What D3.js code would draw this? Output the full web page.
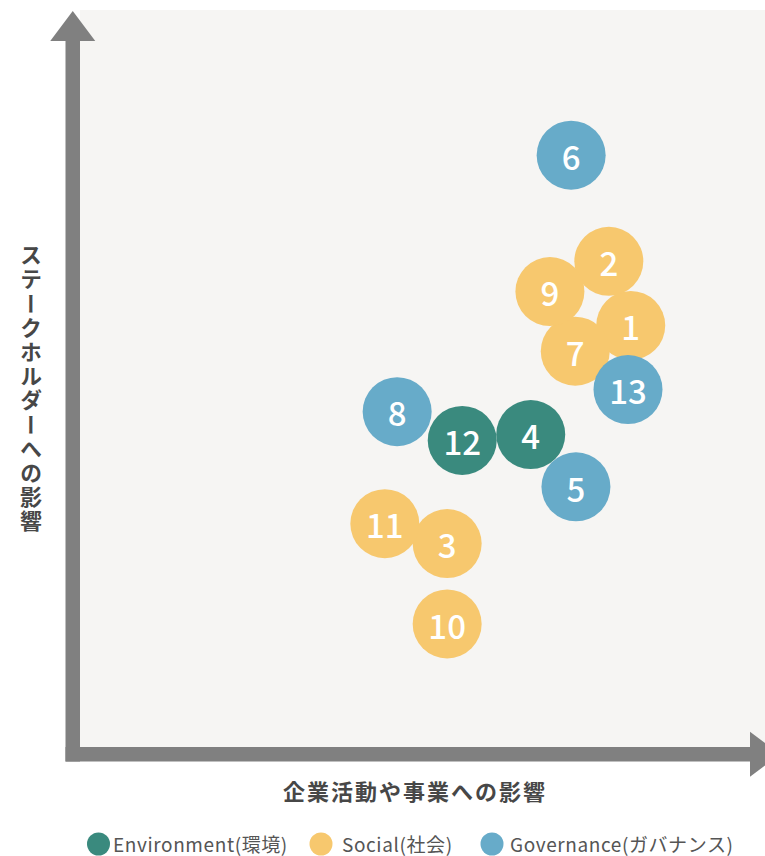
<!DOCTYPE html>
<html>
<head>
<meta charset="utf-8">
<script src="https://cdn.jsdelivr.net/npm/d3@7"></script>
<style>
  html, body { margin: 0; padding: 0; background: #ffffff; }
  svg { display: block; }
</style>
</head>
<body>
<div id="chart"></div>
<script>
// ---- data ----
const ids               = [1, 2, 3, 4, 5, 6, 7, 8, 9, 10, 11, 12, 13];
const businessImpact    = [80.4, 77.2, 53.6, 65.8, 72.4, 71.7, 72.3, 46.3, 68.6, 53.6, 44.5, 55.8, 80.0];
const stakeholderImpact = [57.2, 65.9, 27.6, 42.4, 35.3, 80.3, 53.7, 45.5, 61.8, 16.7, 30.3, 41.6, 48.5];
// E = 4,12 ; S = 1,2,3,7,9,10,11 ; G = 5,6,8,13
const categoryById = ["S", "S", "S", "E", "G", "G", "S", "G", "S", "S", "S", "E", "G"];
const legendKeys   = ["E", "S", "G"];
const legendLabels = ["Environment(環境)", "Social(社会)", "Governance(ガバナンス)"];
const xTitle = "企業活動や事業への影響";
const yTitle = "ステークホルダーへの影響";

const W = 765, H = 856;
const colors = { E: "#3a8a7e", S: "#f7c86e", G: "#67abc9" };

const svg = d3.select("#chart").append("svg")
  .attr("width", W).attr("height", H);

// plot area
const plot = { left: 80, right: 765, top: 10, bottom: 747 };
const x = d3.scaleLinear().domain([0, 100]).range([plot.left, plot.right]);
const y = d3.scaleLinear().domain([0, 100]).range([plot.bottom, plot.top]);

svg.append("rect")
  .attr("x", x(0)).attr("y", y(100))
  .attr("width", x(100) - x(0)).attr("height", y(0) - y(100))
  .attr("fill", "#f6f5f3");

// axes (thick arrows)
const axisColor = "#808080";
const shaft = 14.5;
const ax0 = x(0) - shaft;
const ayBottom = y(0) + shaft;
svg.append("rect").attr("x", ax0).attr("y", 40)
  .attr("width", shaft).attr("height", ayBottom - 40).attr("fill", axisColor);
svg.append("path")
  .attr("d", `M${ax0 + shaft/2},${y(100) + 1} L${ax0 + shaft/2 - 22.5},41 L${ax0 + shaft/2 + 22.5},41 Z`)
  .attr("fill", axisColor);
svg.append("rect").attr("x", ax0).attr("y", y(0))
  .attr("width", 750 - ax0).attr("height", shaft).attr("fill", axisColor);
svg.append("path")
  .attr("d", `M750,${y(0) + shaft/2 - 22.5} L780,${y(0) + shaft/2} L750,${y(0) + shaft/2 + 22.5} Z`)
  .attr("fill", axisColor);

// axis titles
svg.append("text")
  .attr("x", 415).attr("y", 790)
  .attr("text-anchor", "middle").attr("dominant-baseline", "central")
  .style("font-family", "'Noto Sans CJK JP', sans-serif")
  .style("font-size", "22px").style("font-weight", "700")
  .style("letter-spacing", "2px")
  .attr("fill", "#474747")
  .text(xTitle);

svg.append("text")
  .attr("x", 31).attr("y", 389)
  .attr("text-anchor", "middle")
  .style("writing-mode", "vertical-rl")
  .style("font-family", "'Noto Sans CJK JP', sans-serif")
  .style("font-size", "22px").style("font-weight", "700")
  .style("letter-spacing", "2.2px")
  .attr("fill", "#474747")
  .text(yTitle);

// points
const data = ids.map((id, i) => ({
  id, bx: businessImpact[i], sy: stakeholderImpact[i], cat: categoryById[i]
}));
const r = 34.5;
const nodes = svg.append("g").selectAll("g.pt").data(data).enter().append("g")
  .attr("class", "pt")
  .attr("transform", d => `translate(${x(d.bx)},${y(d.sy)})`);
nodes.append("circle").attr("r", r).attr("fill", d => colors[d.cat]);
nodes.append("text")
  .attr("text-anchor", "middle").attr("dominant-baseline", "central")
  .attr("dy", "0.02em")
  .style("font-family", "'Noto Sans CJK JP', sans-serif")
  .style("font-size", "33px").style("font-weight", "500")
  .attr("fill", "#ffffff")
  .text(d => d.id);

// legend
const legendCircleX = [98.5, 321, 492];
const legendTextX   = [113, 342, 510];
const legendY = 843;
const lg = svg.append("g");
legendKeys.forEach((k, i) => {
  lg.append("circle").attr("cx", legendCircleX[i]).attr("cy", legendY + 1)
    .attr("r", 11.5).attr("fill", colors[k]);
  lg.append("text").attr("x", legendTextX[i]).attr("y", legendY)
    .attr("dominant-baseline", "central")
    .style("font-family", "'Noto Sans CJK JP', sans-serif")
    .style("font-size", "19px").style("font-weight", "400")
    .style("letter-spacing", "0.6px")
    .attr("fill", "#555555")
    .text(legendLabels[i]);
});
</script>
</body>
</html>
